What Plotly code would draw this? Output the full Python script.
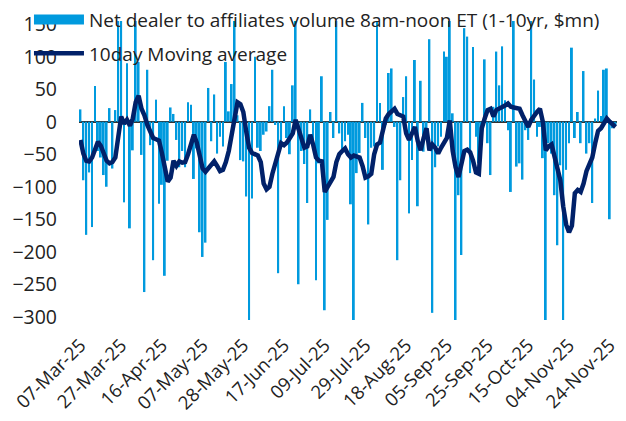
import pandas as pd
import plotly.graph_objects as go

# ---- categories: trading days in the data set ----
start_date = "2025-03-07"
end_date = "2025-11-26"
skipped_days = ["2025-04-18", "2025-05-26", "2025-06-19", "2025-07-04"]
days = [d for d in pd.bdate_range(start_date, end_date) if d.strftime("%Y-%m-%d") not in skipped_days]
dates = [d.strftime("%Y-%m-%d") for d in days]

# ---- tick labels ----
tick_dates = ["2025-03-07", "2025-03-27", "2025-04-16", "2025-05-07", "2025-05-28",
              "2025-06-17", "2025-07-09", "2025-07-29", "2025-08-18", "2025-09-05",
              "2025-09-25", "2025-10-15", "2025-11-04", "2025-11-24"]
tick_labels = ["07-Mar-25", "27-Mar-25", "16-Apr-25", "07-May-25", "28-May-25",
               "17-Jun-25", "09-Jul-25", "29-Jul-25", "18-Aug-25", "05-Sep-25",
               "25-Sep-25", "15-Oct-25", "04-Nov-25", "24-Nov-25"]

# ---- series: net dealer to affiliates volume ($mn) ----
net_volume = [
    19, -90, -174, -78, -162, 55, -45, -55, -82, -100,
    21, -72, 18, 165, 160, -124, 90, -164, -44, 160,
    92, -51, -262, 80, -36, -213, 34, -126, -97, -237,
    -60, 22, 12, -28, -70, -45, -70, 30, 26, -88,
    -41, -170, -208, -186, 52, -30, 42, -49, -23, -38,
    92, 16, 58, 165, 10, -59, -61, -115, -308, -118,
    100, -40, -45, -20, -15, 24, 80, -5, -233, -40,
    24, -25, -50, 56, 165, -250, -45, -65, -125, 19,
    -35, -244, -64, 70, -290, -151, 15, -25, 165, -18,
    -45, -30, -20, -127, -308, -79, -48, 29, -25, -158,
    -40, -38, 160, 29, -74, -5, 75, 82, -8, -213,
    -90, 38, 70, -141, -59, 95, -130, 63, -46, -23,
    127, -294, -70, -38, -23, 108, 100, 165, 13, -308,
    -113, -205, 144, 131, -79, 115, -23, -64, -8, 96,
    -33, -82, 23, 108, 56, 116, 33, -13, -108, 165,
    -69, -64, -89, -13, -28, 160, 65, -23, -8, -56,
    -308, -33, -49, -113, -190, -67, -308, -74, -33, 114,
    -25, 15, -33, 78, -49, -33, -125, 5, 48, 9,
    80, 82, -150, -10, -5,
]

# ---- series: 10-day moving average ($mn) ----
moving_avg = [
    -28, -49, -60, -61, -55, -44, -31, -37, -50, -60,
    -64, -62, -55, -25, 8, -3, 3, -6, 5, 30,
    40, 20, 10, -5, -15, -25, -27, -29, -48, -74,
    -92, -86, -60, -68, -61, -63, -62, -50, -33, -20,
    -32, -55, -72, -77, -72, -66, -61, -68, -76, -74,
    -62, -45, -20, 10, 30, 27, 15, -15, -40, -48,
    -50, -52, -62, -95, -104, -100, -80, -62, -50, -33,
    -36, -32, -25, -18, 3, -12, -30, -40, -38, -20,
    -35, -55, -60, -61, -108, -100, -92, -85, -62, -50,
    -45, -41, -50, -55, -52, -54, -55, -68, -86, -84,
    -80, -50, -35, -32, -10, 5, 12, 16, 20, 12,
    10, 8, -18, -28, -18, -8, -30, -44, -25, -10,
    -44, -35, -40, -49, -40, -31, -25, 2, -45, -70,
    -85, -65, -45, -43, -47, -60, -78, -80, -10, 5,
    18, 20, 8, 18, 20, 23, 25, 28, 23, 22,
    21, 20, 10, 0, -8, 3, 10, 15, 20, 0,
    -44, -38, -35, -54, -75, -90, -130, -158, -170, -160,
    -110, -105, -108, -95, -76, -65, -55, -33, -14, -10,
    -3, 5, 0, -3, -8,
]

n = min(len(dates), len(net_volume), len(moving_avg))
dates = dates[:n]
net_volume = net_volume[:n]
moving_avg = moving_avg[:n]

bar_name = "Net dealer to affiliates volume 8am-noon ET (1-10yr, $mn)"
line_name = "10day Moving average"
bar_color = "#009ADE"
line_color = "#012169"
text_color = "#222222"
font_family = "Open Sans, Noto Sans, sans-serif"

fig = go.Figure()
fig.add_trace(go.Bar(
    x=dates, y=net_volume, marker=dict(color=bar_color, line=dict(width=0)),
    showlegend=False, name=bar_name,
))
# legend swatch for the bars (wide rectangle as in the original)
fig.add_trace(go.Scatter(
    x=[dates[0]], y=[None], mode="lines", line=dict(color=bar_color, width=13),
    name=bar_name, hoverinfo="skip", legendgroup="a",
))
fig.add_trace(go.Scatter(
    x=dates, y=moving_avg, mode="lines", line=dict(color=line_color, width=4.5),
    name=line_name, legendgroup="b",
))

fig.update_layout(
    width=618, height=413,
    margin=dict(l=71, r=9, t=13, b=101, autoexpand=False),
    paper_bgcolor="white", plot_bgcolor="white",
    bargap=0.35,
    font=dict(family=font_family, size=19, color=text_color),
    legend=dict(
        x=-0.093, y=1.068, xanchor="left", yanchor="top",
        bgcolor="rgba(0,0,0,0)", itemwidth=50, tracegroupgap=6,
        font=dict(family=font_family, size=19, color=text_color),
    ),
    xaxis=dict(
        type="category", categoryorder="array", categoryarray=dates,
        range=[-0.5, n - 0.5], automargin=False,
        tickmode="array", tickvals=tick_dates, ticktext=tick_labels,
        tickangle=-45, showgrid=False, showline=False, ticks="",
        ticklabelstandoff=10,
        tickfont=dict(family=font_family, size=18.5, color=text_color),
    ),
    yaxis=dict(
        range=[-305, 155], tickmode="linear", tick0=0, dtick=50, automargin=False,
        showgrid=False, showline=False, ticks="",
        zeroline=True, zerolinecolor="#333333", zerolinewidth=1.5,
        ticklabelstandoff=21,
        tickfont=dict(family=font_family, size=19.5, color=text_color),
    ),
)

fig.write_html("out.html")
